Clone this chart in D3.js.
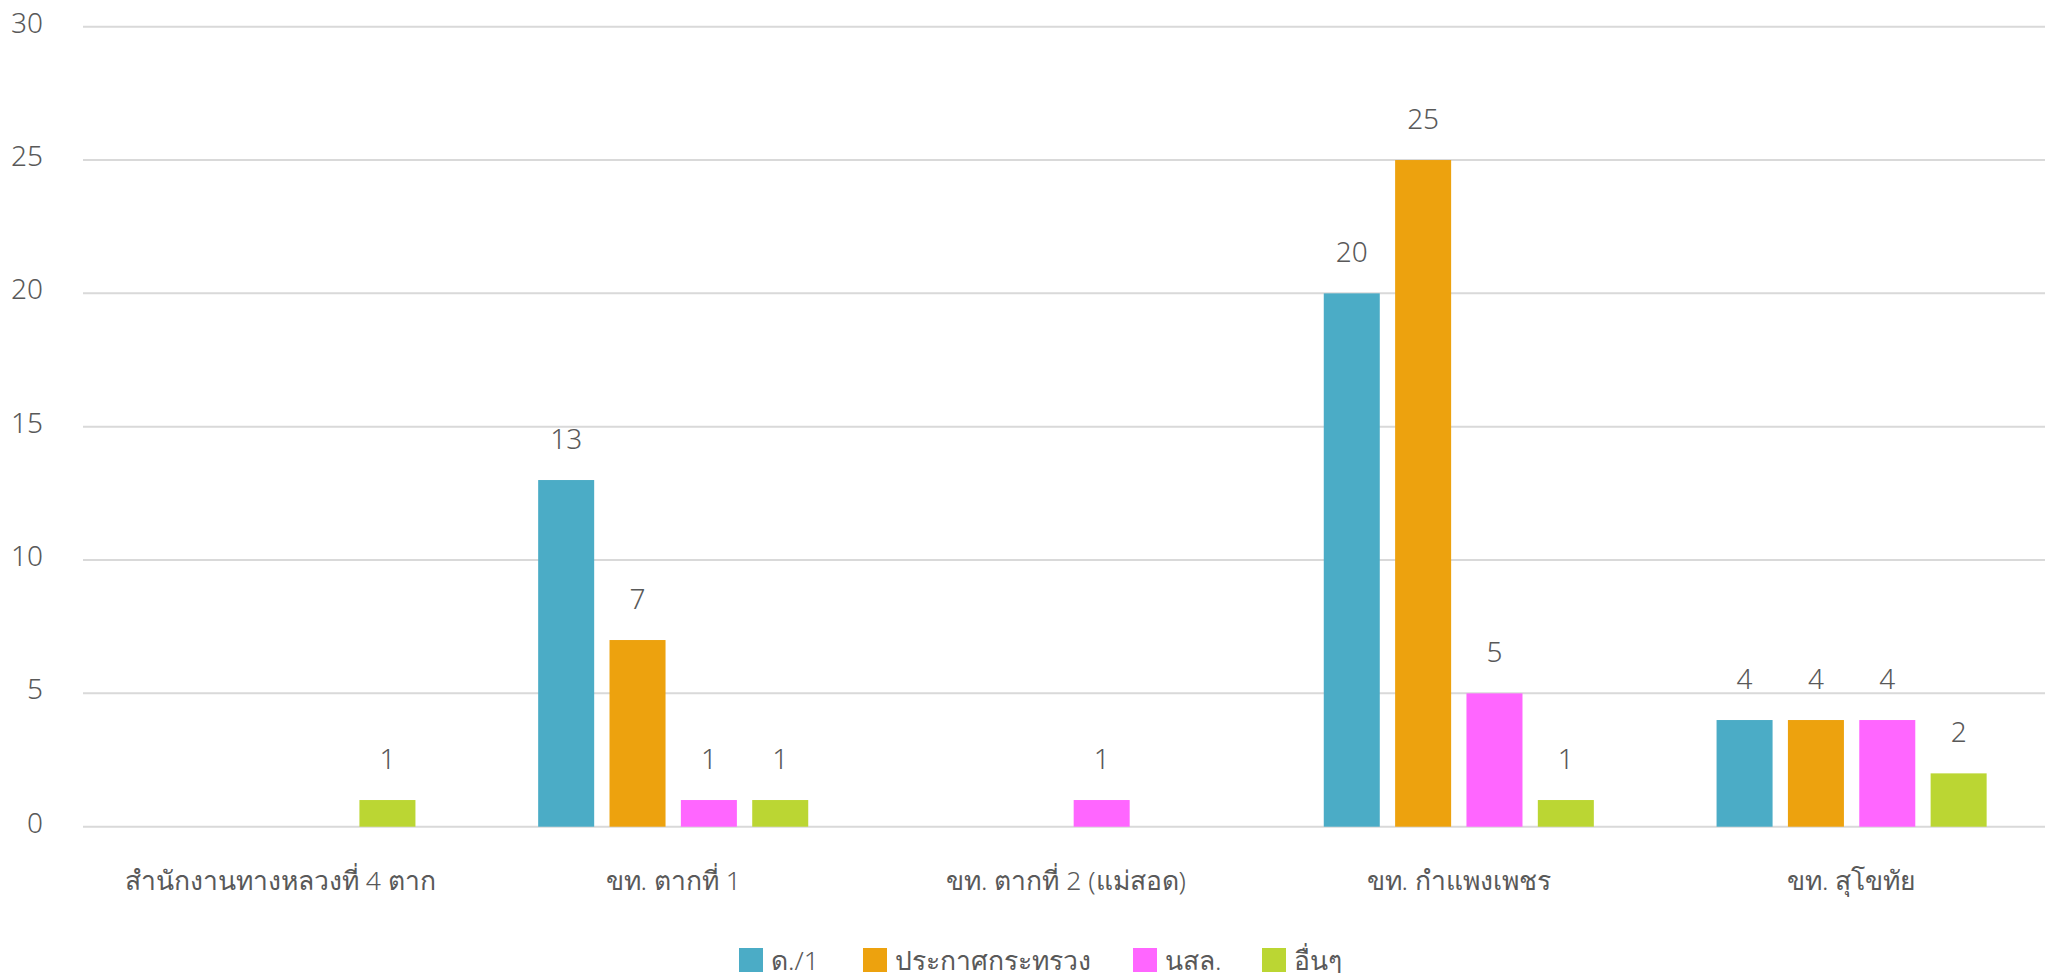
<!DOCTYPE html>
<head>
  <style>
    body { margin: 0; background: #fff; }
    svg text { fill: #595959; }
  </style>
</head>
<body>
<svg id="chart" width="2045" height="973" font-family="'Noto Sans', sans-serif" font-size="28" font-weight="300"></svg>
<script src="https://d3js.org/d3.v7.min.js"></script>
<script>

var categories = ["สำนักงานทางหลวงที่ 4 ตาก", "ขท. ตากที่ 1", "ขท. ตากที่ 2 (แม่สอด)", "ขท. กำแพงเพชร", "ขท. สุโขทัย"];
var seriesNames = ["ด./1", "ประกาศกระทรวง", "นสล.", "อื่นๆ"];
// null = no bar, no label
var d1 = [null, 13, null, 20, 4];
var prakas = [null, 7, null, 25, 4];
var nsl = [null, 1, 1, 5, 4];
var others = [1, 1, null, 1, 2];
var yTicks = [0, 5, 10, 15, 20, 25, 30];
var colors = ["#4BACC6", "#EDA20E", "#FF66FF", "#BBD633"];

var values = [d1, prakas, nsl, others];

var svg = d3.select("svg");
var plotLeft = 84, plotRight = 2048, plotTop = 26.7, plotBottom = 826.7;

var x0 = d3.scaleBand().domain(categories).range([plotLeft, plotRight]);
var x1 = d3.scaleBand().domain(seriesNames).range([0, x0.bandwidth()])
    .paddingInner(0.215).paddingOuter(0.86);
var y = d3.scaleLinear().domain([0, 30]).range([plotBottom, plotTop]);

// gridlines
svg.append("g").selectAll("line")
  .data(yTicks)
  .enter().append("line")
    .attr("x1", plotLeft - 1).attr("x2", 2045)
    .attr("y1", function(d) { return y(d); })
    .attr("y2", function(d) { return y(d); })
    .attr("stroke", "#D9D9D9")
    .attr("stroke-width", 2);

// y labels
svg.append("g").selectAll("text")
  .data(yTicks)
  .enter().append("text")
    .attr("x", 43)
    .attr("y", function(d) { return y(d) + 6; })
    .attr("text-anchor", "end")
    .text(function(d) { return d; });

var rows = [];
values.forEach(function(arr, s) {
  arr.forEach(function(v, c) {
    if (v != null) rows.push({cat: categories[c], ser: seriesNames[s], s: s, v: v});
  });
});

var bars = svg.append("g").selectAll("g")
  .data(rows)
  .enter().append("g");

bars.append("rect")
    .attr("x", function(d) { return x0(d.cat) + x1(d.ser); })
    .attr("width", x1.bandwidth())
    .attr("y", function(d) { return y(d.v); })
    .attr("height", function(d) { return plotBottom - y(d.v); })
    .attr("fill", function(d) { return colors[d.s]; });

bars.append("text")
    .attr("x", function(d) { return x0(d.cat) + x1(d.ser) + x1.bandwidth() / 2; })
    .attr("y", function(d) { return y(d.v) - 31; })
    .attr("text-anchor", "middle")
    .text(function(d) { return d.v; });

// category labels
svg.append("g").selectAll("text")
  .data(categories)
  .enter().append("text")
    .attr("x", function(d) { return x0(d) + x0.bandwidth() / 2; })
    .attr("y", 890)
    .attr("text-anchor", "middle")
    .attr("font-size", 26.5)
    .text(function(d) { return d; });

// legend
var legendX = [739, 863, 1133, 1262];
var leg = svg.append("g").selectAll("g")
  .data(seriesNames)
  .enter().append("g")
    .attr("transform", function(d, i) { return "translate(" + legendX[i] + ",948)"; });
leg.append("rect")
    .attr("width", 24).attr("height", 24)
    .attr("fill", function(d, i) { return colors[i]; });
leg.append("text")
    .attr("x", 32).attr("y", 22)
    .attr("font-size", 26.5)
    .text(function(d) { return d; });

</script>
</body>
